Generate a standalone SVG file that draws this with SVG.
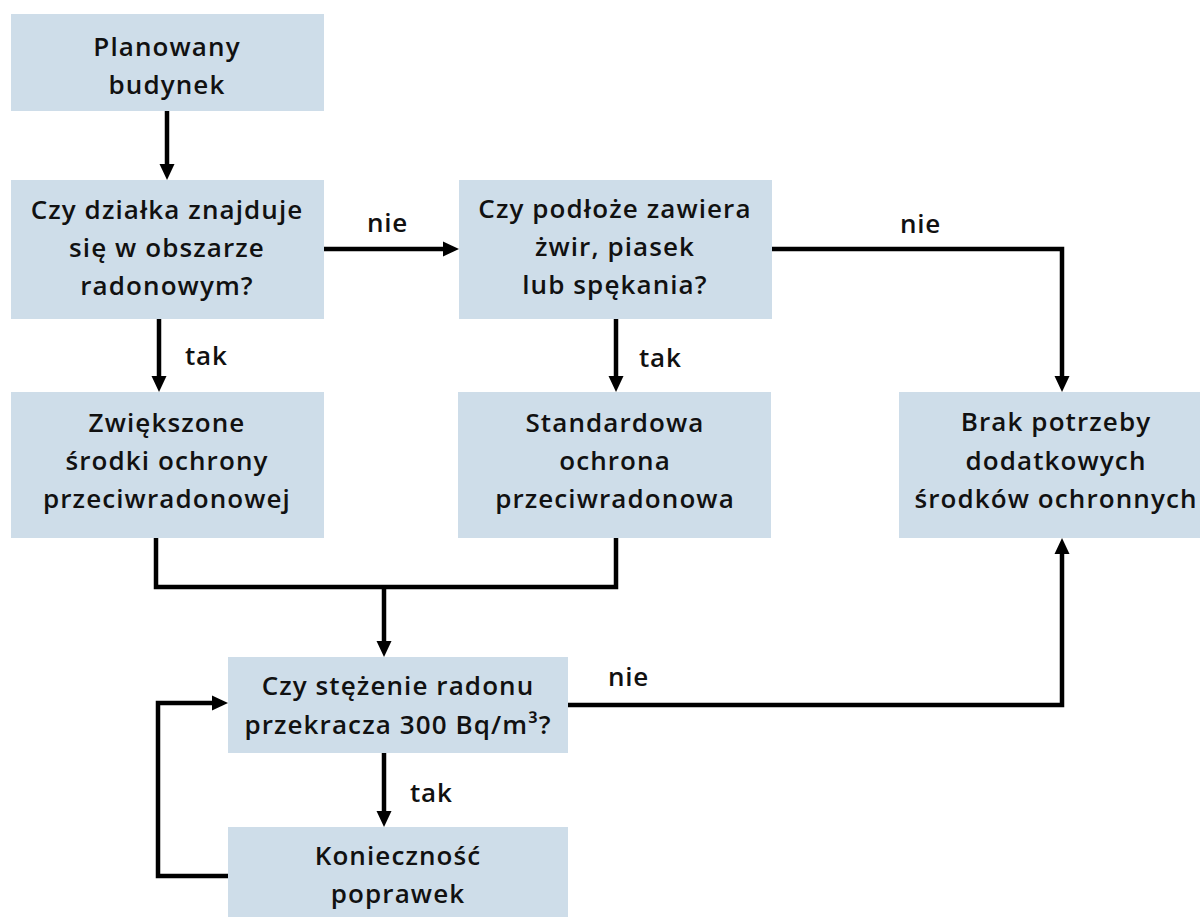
<svg xmlns="http://www.w3.org/2000/svg" width="1200" height="917" viewBox="0 0 1200 917">
  <style>
    .box { fill: #cedde9; }
    .txt { font-family: "Open Sans", "Liberation Sans", sans-serif; font-size: 26px; font-weight: 600; fill: #111; text-anchor: middle; letter-spacing: 1.1px; }
    .lbl { font-family: "Open Sans", "Liberation Sans", sans-serif; font-size: 26px; font-weight: 600; fill: #111; text-anchor: start; letter-spacing: 0.8px; }
    .wire { fill: none; stroke: #000; stroke-width: 4.5; stroke-linejoin: miter; }
    .arrow { marker-end: url(#head); }
  </style>
  <defs>
    <marker id="head" markerUnits="userSpaceOnUse" markerWidth="17" markerHeight="16" refX="0" refY="8" orient="auto">
      <path d="M0,0.5 L16,8 L0,15.5 z" fill="#000"/>
    </marker>
  </defs>

  <rect width="1200" height="917" fill="#fff"/>

  <!-- connectors -->
  <g id="connectors">
    <path class="wire arrow" d="M167,111 V164"/>
    <path class="wire arrow" d="M323,249 H443"/>
    <path class="wire arrow" d="M772,249 H1062 V376"/>
    <path class="wire arrow" d="M159,319 V376"/>
    <path class="wire arrow" d="M616,319 V376"/>
    <path class="wire" d="M156,538 V587 H616 V538"/>
    <path class="wire arrow" d="M384,587 V641"/>
    <path class="wire arrow" d="M568,705 H1062 V554"/>
    <path class="wire arrow" d="M384,753 V811"/>
    <path class="wire arrow" d="M228,876 H158 V703 H212"/>
    <text class="lbl" x="367" y="232">nie</text>
    <text class="lbl" x="900" y="233">nie</text>
    <text class="lbl" x="608" y="686">nie</text>
    <text class="lbl" x="185" y="365">tak</text>
    <text class="lbl" x="639" y="367">tak</text>
    <text class="lbl" x="410" y="802">tak</text>
  </g>

  <g id="planowany">
    <rect class="box" x="11" y="14" width="313" height="97"/>
    <text class="txt" x="167" y="56">Planowany</text>
    <text class="txt" x="167" y="94">budynek</text>
  </g>

  <g id="obszar">
    <rect class="box" x="11" y="180" width="313" height="139"/>
    <text class="txt" x="167" y="219">Czy działka znajduje</text>
    <text class="txt" x="167" y="257">się w obszarze</text>
    <text class="txt" x="167" y="295">radonowym?</text>
  </g>

  <g id="podloze">
    <rect class="box" x="459" y="180" width="313" height="139"/>
    <text class="txt" x="615" y="218">Czy podłoże zawiera</text>
    <text class="txt" x="615" y="256">żwir, piasek</text>
    <text class="txt" x="615" y="294">lub spękania?</text>
  </g>

  <g id="zwiekszone">
    <rect class="box" x="11" y="392" width="313" height="146"/>
    <text class="txt" x="167" y="432">Zwiększone</text>
    <text class="txt" x="167" y="470">środki ochrony</text>
    <text class="txt" x="167" y="508">przeciwradonowej</text>
  </g>

  <g id="standardowa">
    <rect class="box" x="458" y="392" width="313" height="146"/>
    <text class="txt" x="615" y="432">Standardowa</text>
    <text class="txt" x="615" y="470">ochrona</text>
    <text class="txt" x="615" y="508">przeciwradonowa</text>
  </g>

  <g id="brak">
    <rect class="box" x="899" y="392" width="313" height="146"/>
    <text class="txt" x="1056" y="431">Brak potrzeby</text>
    <text class="txt" x="1056" y="470">dodatkowych</text>
    <text class="txt" x="1056" y="508">środków ochronnych</text>
  </g>

  <g id="stezenie">
    <rect class="box" x="228" y="657" width="340" height="96"/>
    <text class="txt" x="398" y="695">Czy stężenie radonu</text>
    <text class="txt" x="398" y="734">przekracza 300 Bq/m³?</text>
  </g>

  <g id="poprawki">
    <rect class="box" x="228" y="827" width="340" height="96"/>
    <text class="txt" x="398" y="865">Konieczność</text>
    <text class="txt" x="398" y="903">poprawek</text>
  </g>
</svg>
